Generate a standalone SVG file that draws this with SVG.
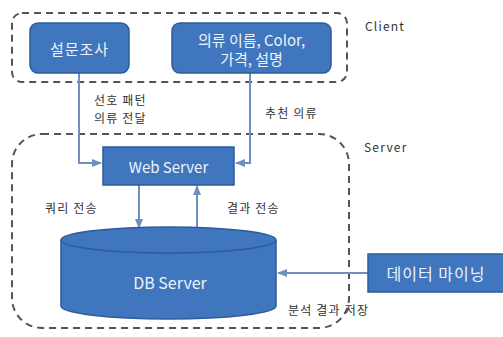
<svg xmlns="http://www.w3.org/2000/svg" width="503" height="337" viewBox="0 0 503 337">
<style>
.grp{fill:none;stroke:#555;stroke-width:2;stroke-dasharray:7 5}
.box{fill:#3F76BD;stroke:#2E5C96;stroke-width:1.5}
.bt{fill:#EEF3FA;font-family:"Noto Sans CJK KR","Liberation Sans",sans-serif;font-size:15px;text-anchor:middle;dominant-baseline:central}
.lbl{fill:#333;font-family:"Noto Sans CJK KR","Liberation Sans",sans-serif;font-size:12px;letter-spacing:1.2px;dominant-baseline:central}
.con{fill:none;stroke:#6F8FBD;stroke-width:2}
</style>
<defs>
<marker id="ah" viewBox="0 0 10 10" refX="9" refY="5" markerWidth="5" markerHeight="5" orient="auto">
<path d="M0,1 L10,5 L0,9 z" fill="#6F8FBD"/>
</marker>
</defs>
<g id="client-group">
<rect class="grp" x="12" y="13" width="335" height="69" rx="10"/>
<text class="lbl" x="365" y="25">Client</text>
</g>
<g id="server-group">
<rect class="grp" x="12" y="134" width="337" height="194" rx="30"/>
<text class="lbl" x="364" y="146">Server</text>
</g>
<g id="connectors">
<path class="con" d="M79,73 V163 H101" marker-end="url(#ah)"/>
<path class="con" d="M250,73 V163 H236" marker-end="url(#ah)"/>
<path class="con" d="M139,185 V228" marker-end="url(#ah)"/>
<path class="con" d="M197,228 V186" marker-end="url(#ah)"/>
<path class="con" d="M368,273 H278" marker-end="url(#ah)"/>
<text class="lbl" x="94" y="99">선호 패턴</text>
<text class="lbl" x="94" y="117.5">의류 전달</text>
<text class="lbl" x="265" y="112">추천 의류</text>
<text class="lbl" x="45" y="207">쿼리 전송</text>
<text class="lbl" x="227" y="207">결과 전송</text>
<text class="lbl" x="288" y="309">분석 결과 저장</text>
</g>
<g id="survey">
<rect class="box" x="30" y="23" width="99" height="50" rx="8"/>
<text class="bt" x="79.5" y="48" letter-spacing="1">설문조사</text>
</g>
<g id="clothing">
<rect class="box" x="172" y="23" width="159" height="50" rx="8"/>
<text class="bt" x="251.5" y="39">의류 이름, Color,</text>
<text class="bt" x="251.5" y="58">가격, 설명</text>
</g>
<g id="webserver">
<rect class="box" x="103" y="147" width="131" height="38"/>
<text class="bt" x="168.5" y="166">Web Server</text>
</g>
<g id="dbserver">
<path class="box" d="M61,240 V306 A107.5,13 0 0 0 276,306 V240 A107.5,13 0 0 0 61,240 Z"/>
<path fill="none" stroke="#2E5C96" stroke-width="1.5" d="M61,240 A107.5,13 0 0 0 276,240"/>
<text class="bt" x="170" y="282" style="font-size:16px">DB Server</text>
</g>
<g id="datamining">
<rect class="box" x="368" y="254" width="136" height="38"/>
<text class="bt" x="436" y="273" style="font-size:16px" letter-spacing="1">데이터 마이닝</text>
</g>
</svg>
